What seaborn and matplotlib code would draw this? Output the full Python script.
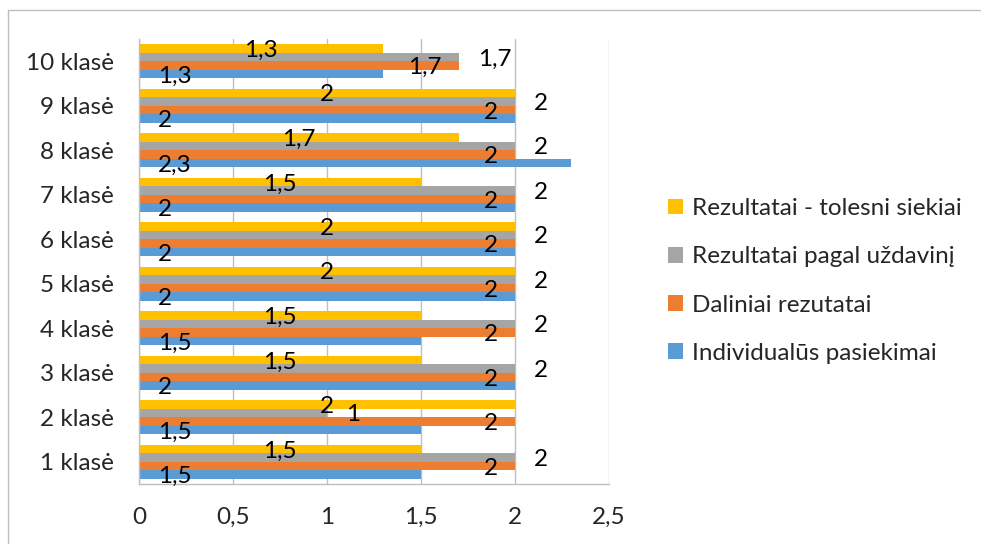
import numpy as np
import pandas as pd
import matplotlib
matplotlib.use("Agg")
import matplotlib.pyplot as plt
import matplotlib.patches as mpatches
from matplotlib.ticker import FixedLocator
import seaborn as sns

# === DATA ===
klases = ["1 klasė", "2 klasė", "3 klasė", "4 klasė", "5 klasė",
          "6 klasė", "7 klasė", "8 klasė", "9 klasė", "10 klasė"]
individualus = [1.5, 1.5, 2, 1.5, 2, 2, 2, 2.3, 2, 1.3]
daliniai = [2, 2, 2, 2, 2, 2, 2, 2, 2, 1.7]
pagal_uzdavini = [2, 1, 2, 2, 2, 2, 2, 2, 2, 1.7]
tolesni = [1.5, 2, 1.5, 1.5, 2, 2, 1.5, 1.7, 2, 1.3]

serijos = ["Rezultatai - tolesni siekiai", "Rezultatai pagal uždavinį",
           "Daliniai rezutatai", "Individualūs pasiekimai"]
reiksmes = [tolesni, pagal_uzdavini, daliniai, individualus]
spalvos = ["#FFC000", "#A5A5A5", "#ED7D31", "#5B9BD5"]
x_ticks = [0, 0.5, 1, 1.5, 2, 2.5]

df = pd.DataFrame([
    {"Klase": k, "Serija": s, "Reiksme": v}
    for s, vals in zip(serijos, reiksmes)
    for k, v in zip(klases, vals)
])

# === STYLE ===
sns.set_style("white")
plt.rcParams["font.family"] = ["Lato", "DejaVu Sans"]
FS = 17.5
GRID = "#BFBFBF"

fig = plt.figure(figsize=(9.81, 5.44), dpi=100)
ax = fig.add_axes([139 / 981, 1 - 484 / 544, 470 / 981, 445 / 544])

sns.barplot(data=df, y="Klase", x="Reiksme", hue="Serija",
            order=klases[::-1], hue_order=serijos, palette=spalvos,
            orient="h", width=0.77, gap=0, saturation=1,
            edgecolor="none", linewidth=0, ax=ax)

ax.set_xlim(0, 2.5)
ax.set_xticks(x_ticks)
ax.set_xticklabels([f"{t:g}".replace(".", ",") for t in x_ticks])
ax.set_xlabel("")
ax.set_ylabel("")
ax.xaxis.grid(True, color=GRID, lw=1)
ax.set_axisbelow(True)

for side in ["top", "right"]:
    ax.spines[side].set_visible(False)
for side in ["left", "bottom"]:
    ax.spines[side].set_color(GRID)
    ax.spines[side].set_linewidth(1)

ax.tick_params(axis="x", length=5.8, width=1, color=GRID, labelsize=FS, pad=11)
ax.tick_params(axis="y", which="major", length=0, labelsize=FS, pad=18)
ax.yaxis.set_minor_locator(FixedLocator(np.arange(-0.5, len(klases), 1)))
ax.tick_params(axis="y", which="minor", length=6.5, width=1, color=GRID)

# === DATA LABELS (Excel-style positions per series) ===
def fmt(v):
    return f"{v:g}".replace(".", ",")

placement = ["center", "outside_end", "inside_end", "inside_base"]
for cont, place in zip(ax.containers, placement):
    for bar in cont:
        v = bar.get_width()
        yc = bar.get_y() + bar.get_height() / 2
        if place == "center":
            x, dx, ha = v / 2, 0, "center"
        elif place == "outside_end":
            x, dx, ha = v, 19, "left"
        elif place == "inside_end":
            x, dx, ha = v, -17, "right"
        else:
            x, dx, ha = 0, 19, "left"
        ax.annotate(fmt(v), xy=(x, yc), xytext=(dx, -2),
                    textcoords="offset pixels", ha=ha, va="center",
                    fontsize=FS, color="black")

# === LEGEND ===
sns.move_legend(ax, loc="center left",
                bbox_to_anchor=(668 / 981, 1 - 281 / 544),
                bbox_transform=fig.transFigure, frameon=False, title=None,
                fontsize=FS, handlelength=0.62, handleheight=0.62,
                handletextpad=0.35, labelspacing=1.12,
                borderpad=0, borderaxespad=0)

# outer chart frame
fig.patches.append(mpatches.Rectangle(
    (8 / 981, -0.1), 1.2, (544 - 10) / 544 + 0.1, transform=fig.transFigure,
    fill=False, edgecolor=GRID, lw=1))

fig.savefig("out.png", dpi=100)
